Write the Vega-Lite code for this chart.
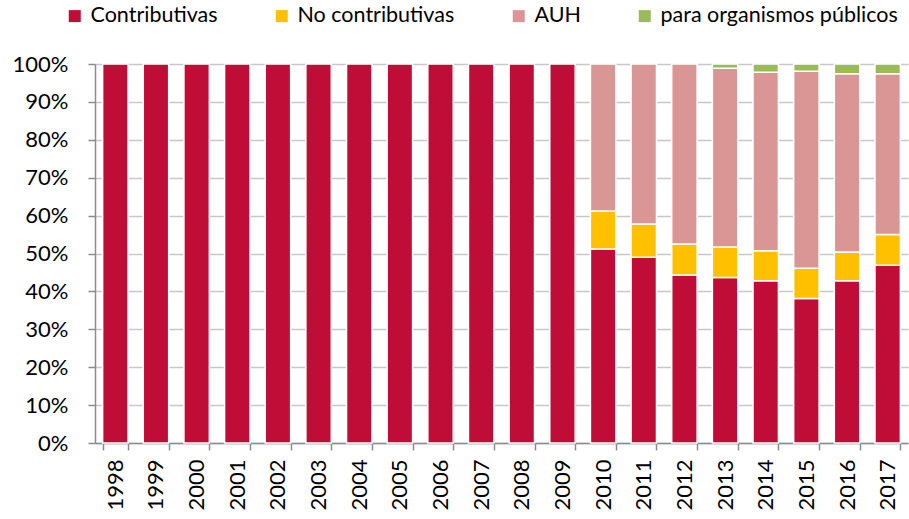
{
  "$schema": "https://vega.github.io/schema/vega-lite/v6.json",
  "width": 813,
  "height": 379,
  "autosize": "none",
  "padding": {"left": 95, "top": 64, "right": 1, "bottom": 76},
  "background": "white",
  "config": {"view": {"stroke": null}, "font": "Lato"},
  "data": {"values": [
    {"year": "1998", "serie": "Contributivas", "k": 1, "v": 100},
    {"year": "1999", "serie": "Contributivas", "k": 1, "v": 100},
    {"year": "2000", "serie": "Contributivas", "k": 1, "v": 100},
    {"year": "2001", "serie": "Contributivas", "k": 1, "v": 100},
    {"year": "2002", "serie": "Contributivas", "k": 1, "v": 100},
    {"year": "2003", "serie": "Contributivas", "k": 1, "v": 100},
    {"year": "2004", "serie": "Contributivas", "k": 1, "v": 100},
    {"year": "2005", "serie": "Contributivas", "k": 1, "v": 100},
    {"year": "2006", "serie": "Contributivas", "k": 1, "v": 100},
    {"year": "2007", "serie": "Contributivas", "k": 1, "v": 100},
    {"year": "2008", "serie": "Contributivas", "k": 1, "v": 100},
    {"year": "2009", "serie": "Contributivas", "k": 1, "v": 100},
    {"year": "2010", "serie": "Contributivas", "k": 1, "v": 51.2},
    {"year": "2010", "serie": "No contributivas", "k": 2, "v": 10.0},
    {"year": "2010", "serie": "AUH", "k": 3, "v": 38.8},
    {"year": "2011", "serie": "Contributivas", "k": 1, "v": 49.0},
    {"year": "2011", "serie": "No contributivas", "k": 2, "v": 8.8},
    {"year": "2011", "serie": "AUH", "k": 3, "v": 42.2},
    {"year": "2012", "serie": "Contributivas", "k": 1, "v": 44.3},
    {"year": "2012", "serie": "No contributivas", "k": 2, "v": 8.2},
    {"year": "2012", "serie": "AUH", "k": 3, "v": 47.5},
    {"year": "2013", "serie": "Contributivas", "k": 1, "v": 43.7},
    {"year": "2013", "serie": "No contributivas", "k": 2, "v": 8.0},
    {"year": "2013", "serie": "AUH", "k": 3, "v": 47.2},
    {"year": "2013", "serie": "para organismos públicos", "k": 4, "v": 1.1},
    {"year": "2014", "serie": "Contributivas", "k": 1, "v": 42.8},
    {"year": "2014", "serie": "No contributivas", "k": 2, "v": 7.9},
    {"year": "2014", "serie": "AUH", "k": 3, "v": 47.1},
    {"year": "2014", "serie": "para organismos públicos", "k": 4, "v": 2.2},
    {"year": "2015", "serie": "Contributivas", "k": 1, "v": 38.1},
    {"year": "2015", "serie": "No contributivas", "k": 2, "v": 8.0},
    {"year": "2015", "serie": "AUH", "k": 3, "v": 52.0},
    {"year": "2015", "serie": "para organismos públicos", "k": 4, "v": 1.9},
    {"year": "2016", "serie": "Contributivas", "k": 1, "v": 42.8},
    {"year": "2016", "serie": "No contributivas", "k": 2, "v": 7.6},
    {"year": "2016", "serie": "AUH", "k": 3, "v": 47.0},
    {"year": "2016", "serie": "para organismos públicos", "k": 4, "v": 2.6},
    {"year": "2017", "serie": "Contributivas", "k": 1, "v": 46.9},
    {"year": "2017", "serie": "No contributivas", "k": 2, "v": 8.1},
    {"year": "2017", "serie": "AUH", "k": 3, "v": 42.4},
    {"year": "2017", "serie": "para organismos públicos", "k": 4, "v": 2.6}
  ]},
  "mark": {"type": "bar", "stroke": "white", "strokeWidth": 1.5},
  "encoding": {
    "x": {
      "field": "year", "type": "ordinal", "title": null,
      "scale": {"paddingInner": 0.375, "paddingOuter": 0.1875},
      "axis": {
        "labelAngle": -90, "labelFontSize": 22, "labelColor": "#000000", "labelFont": "Lato",
        "labelPadding": 9, "labelBaseline": "middle", "labelAlign": "right",
        "domainColor": "#8c8c8c", "domainWidth": 1.5, "tickColor": "#8c8c8c", "tickWidth": 1.5, "tickSize": 7,
        "tickBand": "extent", "grid": false
      }
    },
    "y": {
      "field": "v", "type": "quantitative", "stack": "zero", "title": null,
      "scale": {"domain": [0, 100], "nice": false},
      "axis": {
        "values": [0, 10, 20, 30, 40, 50, 60, 70, 80, 90, 100],
        "labelExpr": "datum.value + '%'",
        "labelFontSize": 22, "labelColor": "#000000", "labelFont": "Lato", "labelPadding": 20,
        "domainColor": "#8c8c8c", "domainWidth": 1.5, "tickColor": "#8c8c8c", "tickWidth": 1.5, "tickSize": 7,
        "grid": true, "gridColor": "#c8c8c8", "gridWidth": 1.5
      }
    },
    "color": {
      "field": "serie", "type": "nominal",
      "scale": {
        "domain": ["Contributivas", "No contributivas", "AUH", "para organismos públicos"],
        "range": ["#C00D38", "#FFC000", "#DA9694", "#9BBB59"]
      },
      "legend": {
        "title": null, "orient": "none", "direction": "horizontal",
        "legendX": -31, "legendY": -59, "padding": 0,
        "symbolType": "square", "symbolSize": 144, "symbolStrokeWidth": 0,
        "labelFontSize": 21.5, "labelFont": "Lato", "labelColor": "#000000",
        "labelOffset": 5, "columnPadding": 53, "labelLimit": 400
      }
    },
    "order": {"field": "k", "type": "quantitative"}
  }
}
